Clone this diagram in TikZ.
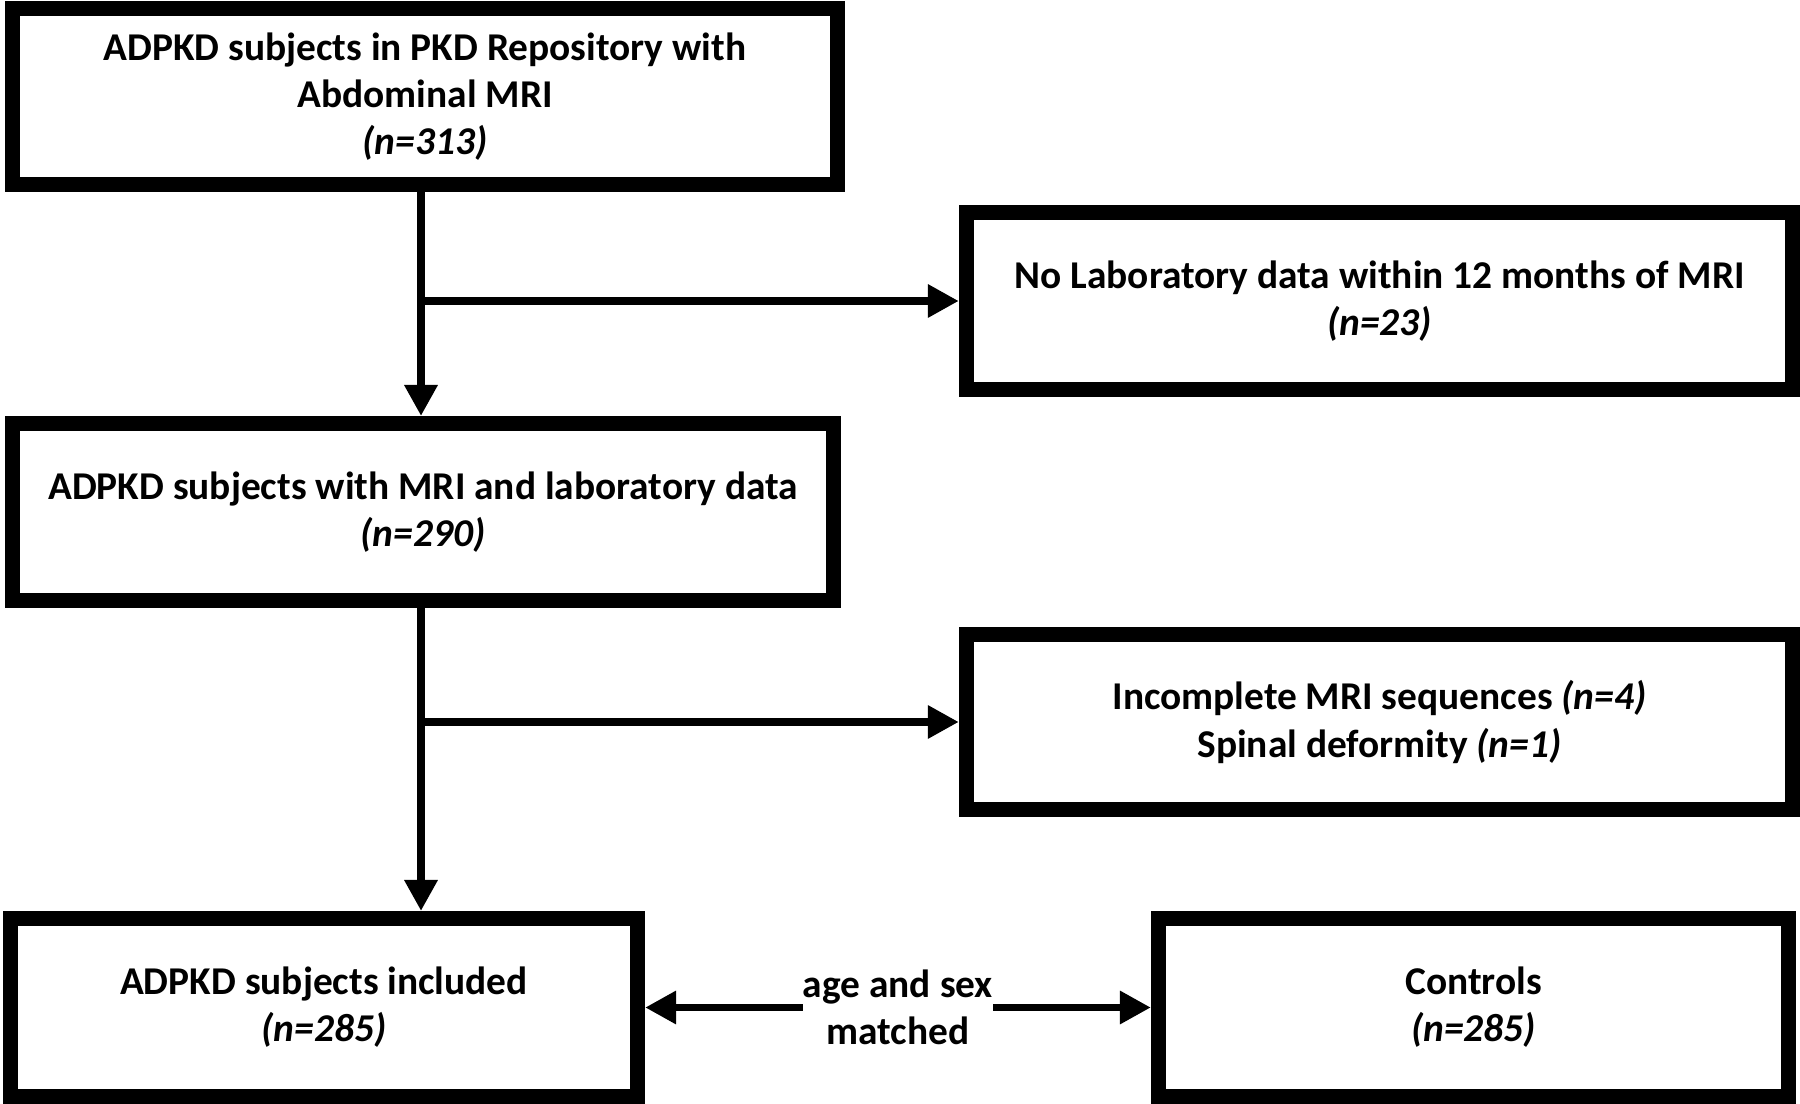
\documentclass[tikz,border=0pt]{standalone}
\usepackage{fontspec}
\setmainfont{Carlito}
\usetikzlibrary{arrows.meta}
\tikzset{
  stage/.style = {
    draw, line width=4.27pt, inner sep=0pt, align=center,
    font=\fontsize{11.2pt}{13.4pt}\selectfont\bfseries
  },
  flow/.style = {
    line width=2.13pt, -{Triangle[length=8.8pt, width=9pt]}
  },
  twoway/.style = {
    line width=2.13pt, {Triangle[length=8.8pt, width=9pt]}-{Triangle[length=8.8pt, width=9pt]}
  },
  matchnote/.style = {
    fill=white, inner xsep=0pt, inner ysep=2pt, align=center,
    font=\fontsize{11.2pt}{13.4pt}\selectfont\bfseries
  }
}
\newcommand{\ncount}[1]{\textit{(n=#1)}}

\begin{document}
\begin{tikzpicture}[x=0.01cm, y=-0.01cm]
  \useasboundingbox (0,0) rectangle (1800,1104);
  \node[stage, minimum width=8.25cm, minimum height=1.76cm] (repo) at (425,96.5)
    {ADPKD subjects in PKD Repository with\\Abdominal MRI\\\ncount{313}};
  \node[stage, minimum width=8.26cm, minimum height=1.77cm] (nolab) at (1379.5,301)
    {No Laboratory data within 12 months of MRI\\\ncount{23}};
  \node[stage, minimum width=8.21cm, minimum height=1.77cm] (mrilab) at (423,512)
    {ADPKD subjects with MRI and laboratory data\\\ncount{290}};
  \node[stage, minimum width=8.26cm, minimum height=1.75cm] (excl) at (1379.5,722)
    {Incomplete MRI sequences \ncount{4}\\Spinal deformity \ncount{1}};
  \node[stage, minimum width=6.27cm, minimum height=1.78cm] (incl) at (324,1007.5)
    {ADPKD subjects included\\\ncount{285}};
  \node[stage, minimum width=6.30cm, minimum height=1.77cm] (ctrl) at (1473.5,1007.5)
    {Controls\\\ncount{285}};
  \coordinate (trunk) at (421,0);
  % arrows
  \draw[flow] (trunk |- repo.south) -- (trunk |- mrilab.north);
  \draw[flow] (trunk |- nolab.west) -- (nolab.west);
  \draw[flow] (trunk |- mrilab.south) -- (trunk |- incl.north);
  \draw[flow] (trunk |- excl.west) -- (excl.west);
  \draw[twoway] (incl.east) -- node[matchnote] {age and sex\\matched} (ctrl.west);
\end{tikzpicture}
\end{document}
